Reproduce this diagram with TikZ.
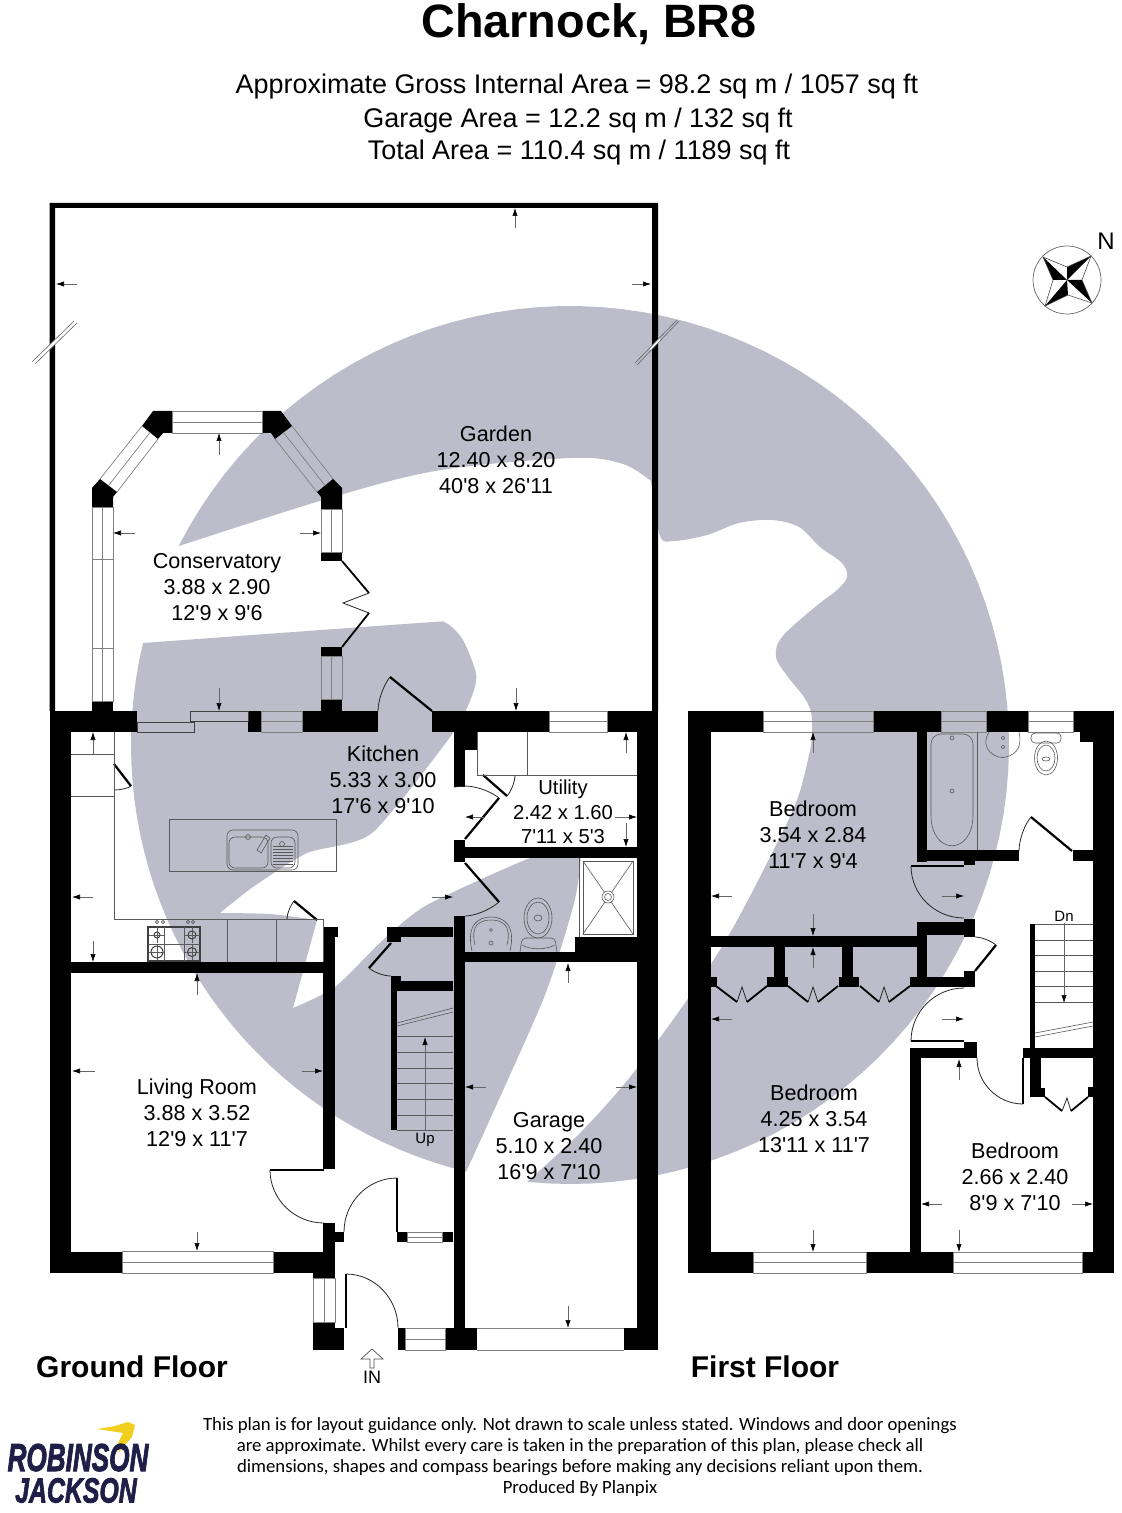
\documentclass[tikz,border=0pt]{standalone}
\usepackage{fontspec}
\setmainfont{Liberation Sans}
\newfontfamily\notefont{Carlito}
\newfontfamily\logofont[BoldItalicFeatures={FakeBold=2.5}]{Liberation Sans}
\usetikzlibrary{arrows.meta,calc}
\definecolor{markgrey}{HTML}{BCBCCA}
\definecolor{logoblue}{HTML}{1E1E46}
\definecolor{logoyellow}{HTML}{F2CF1E}
\newcommand{\ft}{\textquotesingle}
% one door swing: start, corner of the tangents, end
\newcommand{\swingarc}[6]{\draw[swing] (#1,#2) .. controls ($(#1,#2)!.55!(#3,#4)$) and ($(#5,#6)!.55!(#3,#4)$) .. (#5,#6);}
\tikzset{
    room/.style={align=center,inner sep=0,font=\fontsize{10.8}{13}\selectfont},
    headline/.style={align=center,inner sep=0,font=\fontsize{13.48}{16.6}\selectfont},
    floorname/.style={inner sep=0,font=\bfseries\fontsize{15}{18}\selectfont},
    smalltext/.style={inner sep=0,font=\fontsize{7.5}{9}\selectfont},
    dimline/.style={line width=.3pt,draw=black!60,-{Latex[length=4pt,width=2.6pt,color=black]}},
    glaze/.style={line width=.35pt,draw=black!50},
    fixture/.style={line width=.3pt,draw=black!65},
    leaf/.style={line width=1.1pt,draw=black},
    swing/.style={line width=.4pt,draw=black!85},
    slash/.style={line width=.3pt,draw=black!60},
}
\begin{document}
\begin{tikzpicture}[x=0.5pt,y=-0.5pt]
    \useasboundingbox (0,0) rectangle (1121,1513);
    % the grey mark behind the plans, its rim is one circle
    \fill[markgrey] plot[domain=207:455.6,samples=90] ({570+439*cos(\x)},{745+439*sin(\x)})
        -- plot[smooth,tension=.55] coordinates {(527,1182) (580,1133) (630,1077) (687,1000) (730,933) (770,857) (797,800) (810,750) (812,730) (811,712) (804,697) (788,677) (776,657) (782,637) (815,607) (837,590) (847,577) (842,563) (820,547) (799,527) (772,520) (739,523) (707,535) (674,541) (660,536) (652,487) (647,478) (620,463) (571,458) (441,470) (333,497) (179,546)} -- cycle;
    \fill[markgrey] plot[domain=193.4:103.7,samples=40] ({570+439*cos(\x)},{745+439*sin(\x)})
        -- plot[smooth,tension=.4] coordinates {(466,1172) (543,1000) (573,907) (580,867) (577,848) (530,858) (427,905) (383,940) (335,987) (293,1008)}
        -- plot[smooth,tension=.4] coordinates {(317,920) (270,914) (220,913)}
        -- plot[smooth,tension=.4] coordinates {(220,913) (253,887) (307,853) (372,833) (453,733) (473,693) (476,673) (463,640) (446,623) (419,623) (143,643)} -- cycle;

    % garden fence
    \fill[black] (49.5,711) -- (49.5,203) -- (658,203) -- (658,711) -- (652,711) -- (652,208) -- (55,208) -- (55,711) -- cycle;
    % breaks in the fence
    \fill[white] (48,346.4) -- (58,336.6) -- (58,341.5) -- (48,351.3) -- cycle;
    \fill[white] (650,347.6) -- (660,337.4) -- (660,340.9) -- (650,351.4) -- cycle;
    \foreach \xa/\ya/\xb/\yb in {32/362/74/321,35/364/77/323,635/363/677/320,637/365/679/321}
        \draw[slash] (\xa,\ya)--(\xb,\yb);

    % walls, ground floor
    \foreach \xa/\ya/\xb/\yb in {
        50/711/137/732, 248/711/261/732, 302/711/378/732, 321/699/342/711, 92/701/113/711,
        432/711/549/732, 607/711/658/732, 50/711/71/1273, 637/711/658/1350,
        454/732/465/787, 454/732/477/750, 454/840/465/862, 465/847/637/858,
        454/916/465/1328, 465/952/637/962, 575/937/637/952,
        387/927/453/937, 387/927/401/942, 391/981/453/991, 391/976/401/991, 391/981/397/1130,
        323/927/335/1169, 323/927/338/937, 71/962/323/973,
        50/1252/122/1273, 323/1223/335/1273, 335/1232/344/1242, 273/1252/335/1273, 313/1273/335/1278,
        397/1232/407/1242, 442/1232/453/1242,
        313/1322/335/1350, 335/1328/344/1350, 398/1328/405/1350, 445/1328/477/1350, 624/1328/658/1350,
        321/552/342/561, 321/647/342/656}
        \fill[black] (\xa,\ya) rectangle (\xb,\yb);
    % corner posts of the conservatory
    \fill[black] (92,488)--(100,479)--(117,492)--(113,497)--(113,507)--(92,507)--cycle;
    \fill[black] (153,411)--(172,411)--(172,433)--(163,433)--(158,439)--(142,426)--cycle;
    \fill[black] (262,411)--(281,411)--(292,426)--(275,439)--(271,433)--(262,433)--cycle;
    \fill[black] (333,479)--(342,488)--(342,509)--(321,509)--(321,497)--(317,492)--cycle;

    % walls, first floor
    \foreach \xa/\ya/\xb/\yb in {
        688/711/763/732, 873/711/941/732, 986/711/1028/732, 1073/711/1114/732, 1080/732/1093/742,
        688/711/711/1273, 1093/711/1114/1273,
        917/732/927/862, 917/850/1019/861, 1073/850/1093/861, 964/861/975/865,
        964/919/975/937, 917/922/964/935, 917/922/927/987, 711/936/917/947,
        910/977/975/987, 964/971/975/987,
        774/947/785/977, 767/977/788/987, 842/947/853/977, 839/977/859/987, 711/977/717/987,
        910/1048/977/1058, 910/1048/921/1252, 964/1042/977/1058,
        1023/1048/1093/1058, 1030/924/1035/1048, 1030/1058/1041/1088, 1030/1088/1045/1097, 1088/1087/1093/1097,
        688/1252/753/1273, 866/1252/953/1273, 1082/1252/1114/1273}
        \fill[black] (\xa,\ya) rectangle (\xb,\yb);

    % windows with a middle line, along x
    \foreach \xa/\xb/\ya/\yb in {172/262/411/433, 261/302/711/732, 549/607/711/732, 122/273/1251/1273,
        407/442/1232/1242, 405/445/1328/1350, 763/873/711/732, 941/986/711/732, 1028/1073/711/732,
        753/866/1252/1273, 953/1082/1252/1273}{
        \draw[glaze] (\xa,\ya) rectangle (\xb,\yb);
        \draw[glaze] (\xa,{(\ya+\yb)/2})--(\xb,{(\ya+\yb)/2});
    }
    % and along y
    \foreach \xa/\xb/\ya/\yb in {92/113/507/701, 321/342/509/552, 321/342/656/699, 313/335/1278/1322}{
        \draw[glaze] (\xa,\ya) rectangle (\xb,\yb);
        \draw[glaze] ({(\xa+\xb)/2},\ya)--({(\xa+\xb)/2},\yb);
    }
    \draw[glaze] (92,559)--(113,559) (92,648)--(113,648);
    \draw[glaze] (142,426)--(100,479) (158,439)--(117,492) (150,432.5)--(108.5,485.5);
    \draw[glaze] (292,426)--(333,479) (275,439)--(317,492) (283.5,432.5)--(325,485.5);
    % sliding door and garage door
    \draw[line width=.5pt,black!75] (137,722) rectangle (194,732) (190,711) rectangle (248,721);
    \draw[glaze] (477,1328)--(624,1328) (477,1350)--(624,1350);

    % door leaves
    \foreach \xa/\ya/\xb/\yb in {432/711/390/677, 114/764/131/786, 317/920/294/901, 483/775/507/796,
        465/839/499/798, 465/863/499/902, 391/943/369/968, 324/1170/270/1170, 397/1232/397/1178,
        346/1328/346/1274, 1072/851/1031/817, 964/866/911/866, 975/971/996/945, 964/1041/911/1041,
        1023/1058/1023/1104}
        \draw[leaf] (\xa,\ya)--(\xb,\yb);
    % door swings
    \swingarc{390}{677}{378}{692}{378}{711}
    \swingarc{131}{786}{126}{790}{114}{790}
    \swingarc{294}{901}{287}{909.5}{287}{919}
    \swingarc{507}{796}{515}{787}{515}{775}
    \swingarc{499}{798}{484.5}{786}{465}{786}
    \draw[swing] (465,786)--(454,787);
    \swingarc{499}{902}{483}{916}{465}{916}
    \swingarc{369}{968}{378}{976}{391}{976}
    \swingarc{270}{1170}{270}{1223}{324}{1223}
    \swingarc{397}{1178}{344}{1178}{344}{1232}
    \swingarc{346}{1274}{398}{1274}{398}{1328}
    \swingarc{1031}{817}{1019}{831}{1019}{851}
    \swingarc{911}{866}{911}{918}{964}{918}
    \swingarc{996}{945}{986}{937}{975}{937}
    \swingarc{911}{1041}{911}{988}{964}{988}
    \swingarc{1023}{1104}{977}{1104}{977}{1058}

    % folding doors
    \foreach \xa/\ya/\xb/\yb/\xc/\yc/\xd/\yd in {
        342/561/369/593/343/603/369/613, 716/986/737/1002/742/987/747/1002, 788/986/808/1002/813/987/818/1002,
        860/986/879/1002/884/987/889/1002, 1045/1097/1062/1111/1067/1098/1071/1111}{
        \draw[line width=.9pt] (\xa,\ya)--(\xb,\yb);
        \draw[swing] (\xb,\yb)--(\xc,\yc)--(\xd,\yd);
    }
    \draw[line width=.9pt] (369,613)--(342,647) (747,1002)--(767,986) (818,1002)--(838,986) (889,1002)--(910,986) (1071,1111)--(1088,1097);

    % stairs
    \foreach \y in {1036,1052,1068,1083,1099,1115,1130}
        \draw[fixture] (397,\y)--(453,\y);
    \foreach \y in {924,940,955,971,986,1002}
        \draw[fixture] (1035,\y)--(1093,\y);
    \draw[fixture] (397,1023)--(453,1008) (397,1026)--(453,1012);
    \draw[fixture] (1035,1033)--(1093,1022) (1035,1037)--(1093,1026);

    % kitchen units
    \draw[fixture] (114,732)--(114,919)--(323,919)--(323,962);
    \draw[fixture] (71,754)--(114,754) (71,796)--(114,796);
    \draw[fixture] (227,919)--(227,962) (276,919)--(276,962);
    \draw[fixture] (169,819) rectangle (336,871);
    \draw[fixture,rounded corners=3pt] (227,830) rectangle (298,870);
    \draw[fixture,rounded corners=3pt] (229,837) rectangle (268,868);
    \draw[fixture,rounded corners=3pt] (271,837) rectangle (295,868);
    \foreach \y in {846,849,852,855,858,861,864}
        \draw[fixture] (273,\y)--(293,\y);
    \draw[fixture] (248,837) circle (2.5) (282,844) circle (2.5);
    \draw[fixture] (257,850)--(266,835)--(270,838)--(261,853)--cycle;
    % hob
    \draw[line width=.6pt,black!75] (148,927) rectangle (200,961);
    \draw[fixture] (164,927)--(164,961) (184,927)--(184,961) (148,944)--(200,944);
    \foreach \x/\y/\r in {157/935/3, 157/952/6, 192/935/4, 192/952/4.5}{
        \draw[line width=.5pt,black!75] (\x,\y) circle (\r);
        \draw[fixture] (\x-8,\y)--(\x+8,\y) (\x,\y-8)--(\x,\y+8);
    }
    \foreach \x in {157,163,188,193}
        \draw[fixture] (\x,922) circle (1.6);

    % utility and shower room
    \draw[fixture] (477,732)--(477,775)--(637,775) (527,732)--(527,775);
    \draw[fixture] (579,858)--(579,937);
    \draw[fixture] (583,861) rectangle (633,934);
    \draw[fixture] (583,861)--(633,934) (633,861)--(583,934);
    \fill[white] (608,897) circle (6);
    \draw[fixture] (608,897) circle (6) (608,897) circle (3.5);
    \draw[fixture] (472,951) .. controls (466,925) and (478,917) .. (491,917) .. controls (504,917) and (516,925) .. (510,951);
    \draw[fixture] (475,945) .. controls (470,925) and (480,920) .. (491,920) .. controls (502,920) and (512,925) .. (507,945);
    \draw[fixture] (491,930) circle (1.5) (491,943) circle (2);
    \draw[fixture] (538,918) ellipse (14 and 20) (538,918) ellipse (11 and 16) (538,918) ellipse (4 and 3);
    \draw[fixture,rounded corners=2pt] (520,952)--(522,938)--(555,938)--(557,952);
    \draw[fixture] (522,945) .. controls (530,950) and (546,950) .. (555,945);

    % bathroom
    \draw[fixture,rounded corners=5pt] (931,815)--(931,734)--(973,734)--(973,815);
    \draw[fixture] (931,815) .. controls (931,856) and (973,856) .. (973,815);
    \draw[fixture] (977,732)--(977,850);
    \draw[fixture] (952,791) circle (2) (952,738) circle (2);
    \draw[fixture] (989,732) .. controls (978,750) and (998,760) .. (1006,757) .. controls (1018,754) and (1022,745) .. (1019,732);
    \draw[fixture] (1003,738) circle (1.8) (1003,747) circle (1.8);
    \draw[fixture,rounded corners=2pt] (1031,733) rectangle (1061,743);
    \draw[fixture] (1046,758) ellipse (11.5 and 17) (1046,758) ellipse (9 and 13) (1046,759) ellipse (4 and 2);

    % measuring arrows
    \foreach \xa/\ya/\xb/\yb in {
        515/228/515/208, 77/284/56/284, 632/284/651/284, 516/688/516/711,
        219/455/219/433, 135/533/113/533, 300/533/321/533, 219/688/219/711,
        93/754/93/732, 93/897/72/897, 93/941/93/962, 432/897/453/897,
        197/995/197/973, 95/1071/72/1071, 302/1071/323/1071, 197/1232/197/1251,
        626/753/626/732, 485/817/465/817, 615/817/637/817, 626/823/626/847,
        568/983/568/963, 486/1087/465/1087, 616/1087/637/1087, 568/1306/568/1328,
        425/1130/425/1037,
        813/753/813/732, 732/896/711/896, 813/914/813/936, 942/896/964/896,
        813/968/813/947, 732/1019/711/1019, 942/1019/964/1019, 813/1230/813/1252,
        959/1080/959/1059, 942/1204/921/1204, 1072/1204/1093/1204, 959/1230/959/1252,
        1064/923/1064/1003}
        \draw[dimline] (\xa,\ya)--(\xb,\yb);

    % way in
    \draw[line width=.35pt,black!70] (370,1368)--(370,1359)--(361,1359)--(372,1349)--(383,1359)--(374,1359)--(374,1368)--cycle;

    % compass
    \draw[line width=.35pt,black!60] (1067,280) circle (34);
    \fill[black] (1043,257)--(1067,280)--(1053,280)--cycle;
    \fill[black] (1091,256)--(1067,280)--(1067,267)--cycle;
    \fill[black] (1092,303)--(1067,280)--(1082,280)--cycle;
    \fill[black] (1045,306)--(1067,280)--(1068,295)--cycle;
    \draw[line width=.3pt,black!70] (1043,257)--(1067,267)--(1091,256)--(1082,280)--(1092,303)--(1068,295)--(1045,306)--(1053,280)--cycle;

    % logo
    \fill[logoyellow] (97,1429)--(115,1426)--(128,1422)--(135,1425)--(132,1437)--(123,1447)--(119,1452)--(118,1443)--(123,1433)--(110,1431)--cycle;
    \node[inner sep=0,text=logoblue,text depth=0pt,text height=13pt] (logotop) at (78,1458) {\scalebox{.67}[1]{\logofont\bfseries\itshape\fontsize{19.5}{20}\selectfont ROBINSON}};
    \node[inner sep=0,text=logoblue,text depth=0pt,text height=11.5pt] (logobottom) at (76,1491) {\scalebox{.71}[1]{\logofont\bfseries\itshape\fontsize{17.5}{18}\selectfont JACKSON}};

    % texts
    \node[inner sep=0,font=\bfseries\fontsize{23.4}{28}\selectfont] (title) at (589,24) {Charnock, BR8};
    \node[headline] (grossarea) at (577,87) {Approximate Gross Internal Area = 98.2 sq m / 1057 sq ft};
    \node[headline] (garagearea) at (578,121) {Garage Area = 12.2 sq m / 132 sq ft};
    \node[headline] (totalarea) at (579,153) {Total Area = 110.4 sq m / 1189 sq ft};
    \node[inner sep=0,font=\fontsize{12}{14}\selectfont] (north) at (1106,241) {N};

    \node[room] (garden) at (496,460) {Garden\\12.40 x 8.20\\40\ft8 x 26\ft11};
    \node[room] (conservatory) at (217,587) {Conservatory\\3.88 x 2.90\\12\ft9 x 9\ft6};
    \node[room] (kitchen) at (383,780) {Kitchen\\5.33 x 3.00\\17\ft6 x 9\ft10};
    \node[room,font=\fontsize{10.1}{12.2}\selectfont] (utility) at (563,812) {Utility\\2.42 x 1.60\\7\ft11 x 5\ft3};
    \node[room] (livingroom) at (197,1113) {Living Room\\3.88 x 3.52\\12\ft9 x 11\ft7};
    \node[room] (garage) at (549,1146) {Garage\\5.10 x 2.40\\16\ft9 x 7\ft10};
    \node[room] (bedroomback) at (813,835) {Bedroom\\3.54 x 2.84\\11\ft7 x 9\ft4};
    \node[room] (bedroomfront) at (814,1119) {Bedroom\\4.25 x 3.54\\13\ft11 x 11\ft7};
    \node[room] (bedroomsmall) at (1015,1177) {Bedroom\\2.66 x 2.40\\8\ft9 x 7\ft10};

    \node[smalltext] (upstairs) at (425,1140) {Up};
    \node[smalltext] (downstairs) at (1064,916) {Dn};
    \node[inner sep=0,font=\fontsize{9}{11}\selectfont] (wayin) at (372,1377) {IN};
    \node[floorname] (groundfloor) at (132,1367) {Ground Floor};
    \node[floorname] (firstfloor) at (765,1367) {First Floor};
    \node[align=center,inner sep=0,font=\notefont\fontsize{9.36}{10.5}\selectfont] (disclaimer) at (580,1457) {This plan is for layout guidance only. Not drawn to scale unless stated. Windows and door openings\\are approximate. Whilst every care is taken in the preparation of this plan, please check all\\dimensions, shapes and compass bearings before making any decisions reliant upon them.\\Produced By Planpix};
\end{tikzpicture}
\end{document}
